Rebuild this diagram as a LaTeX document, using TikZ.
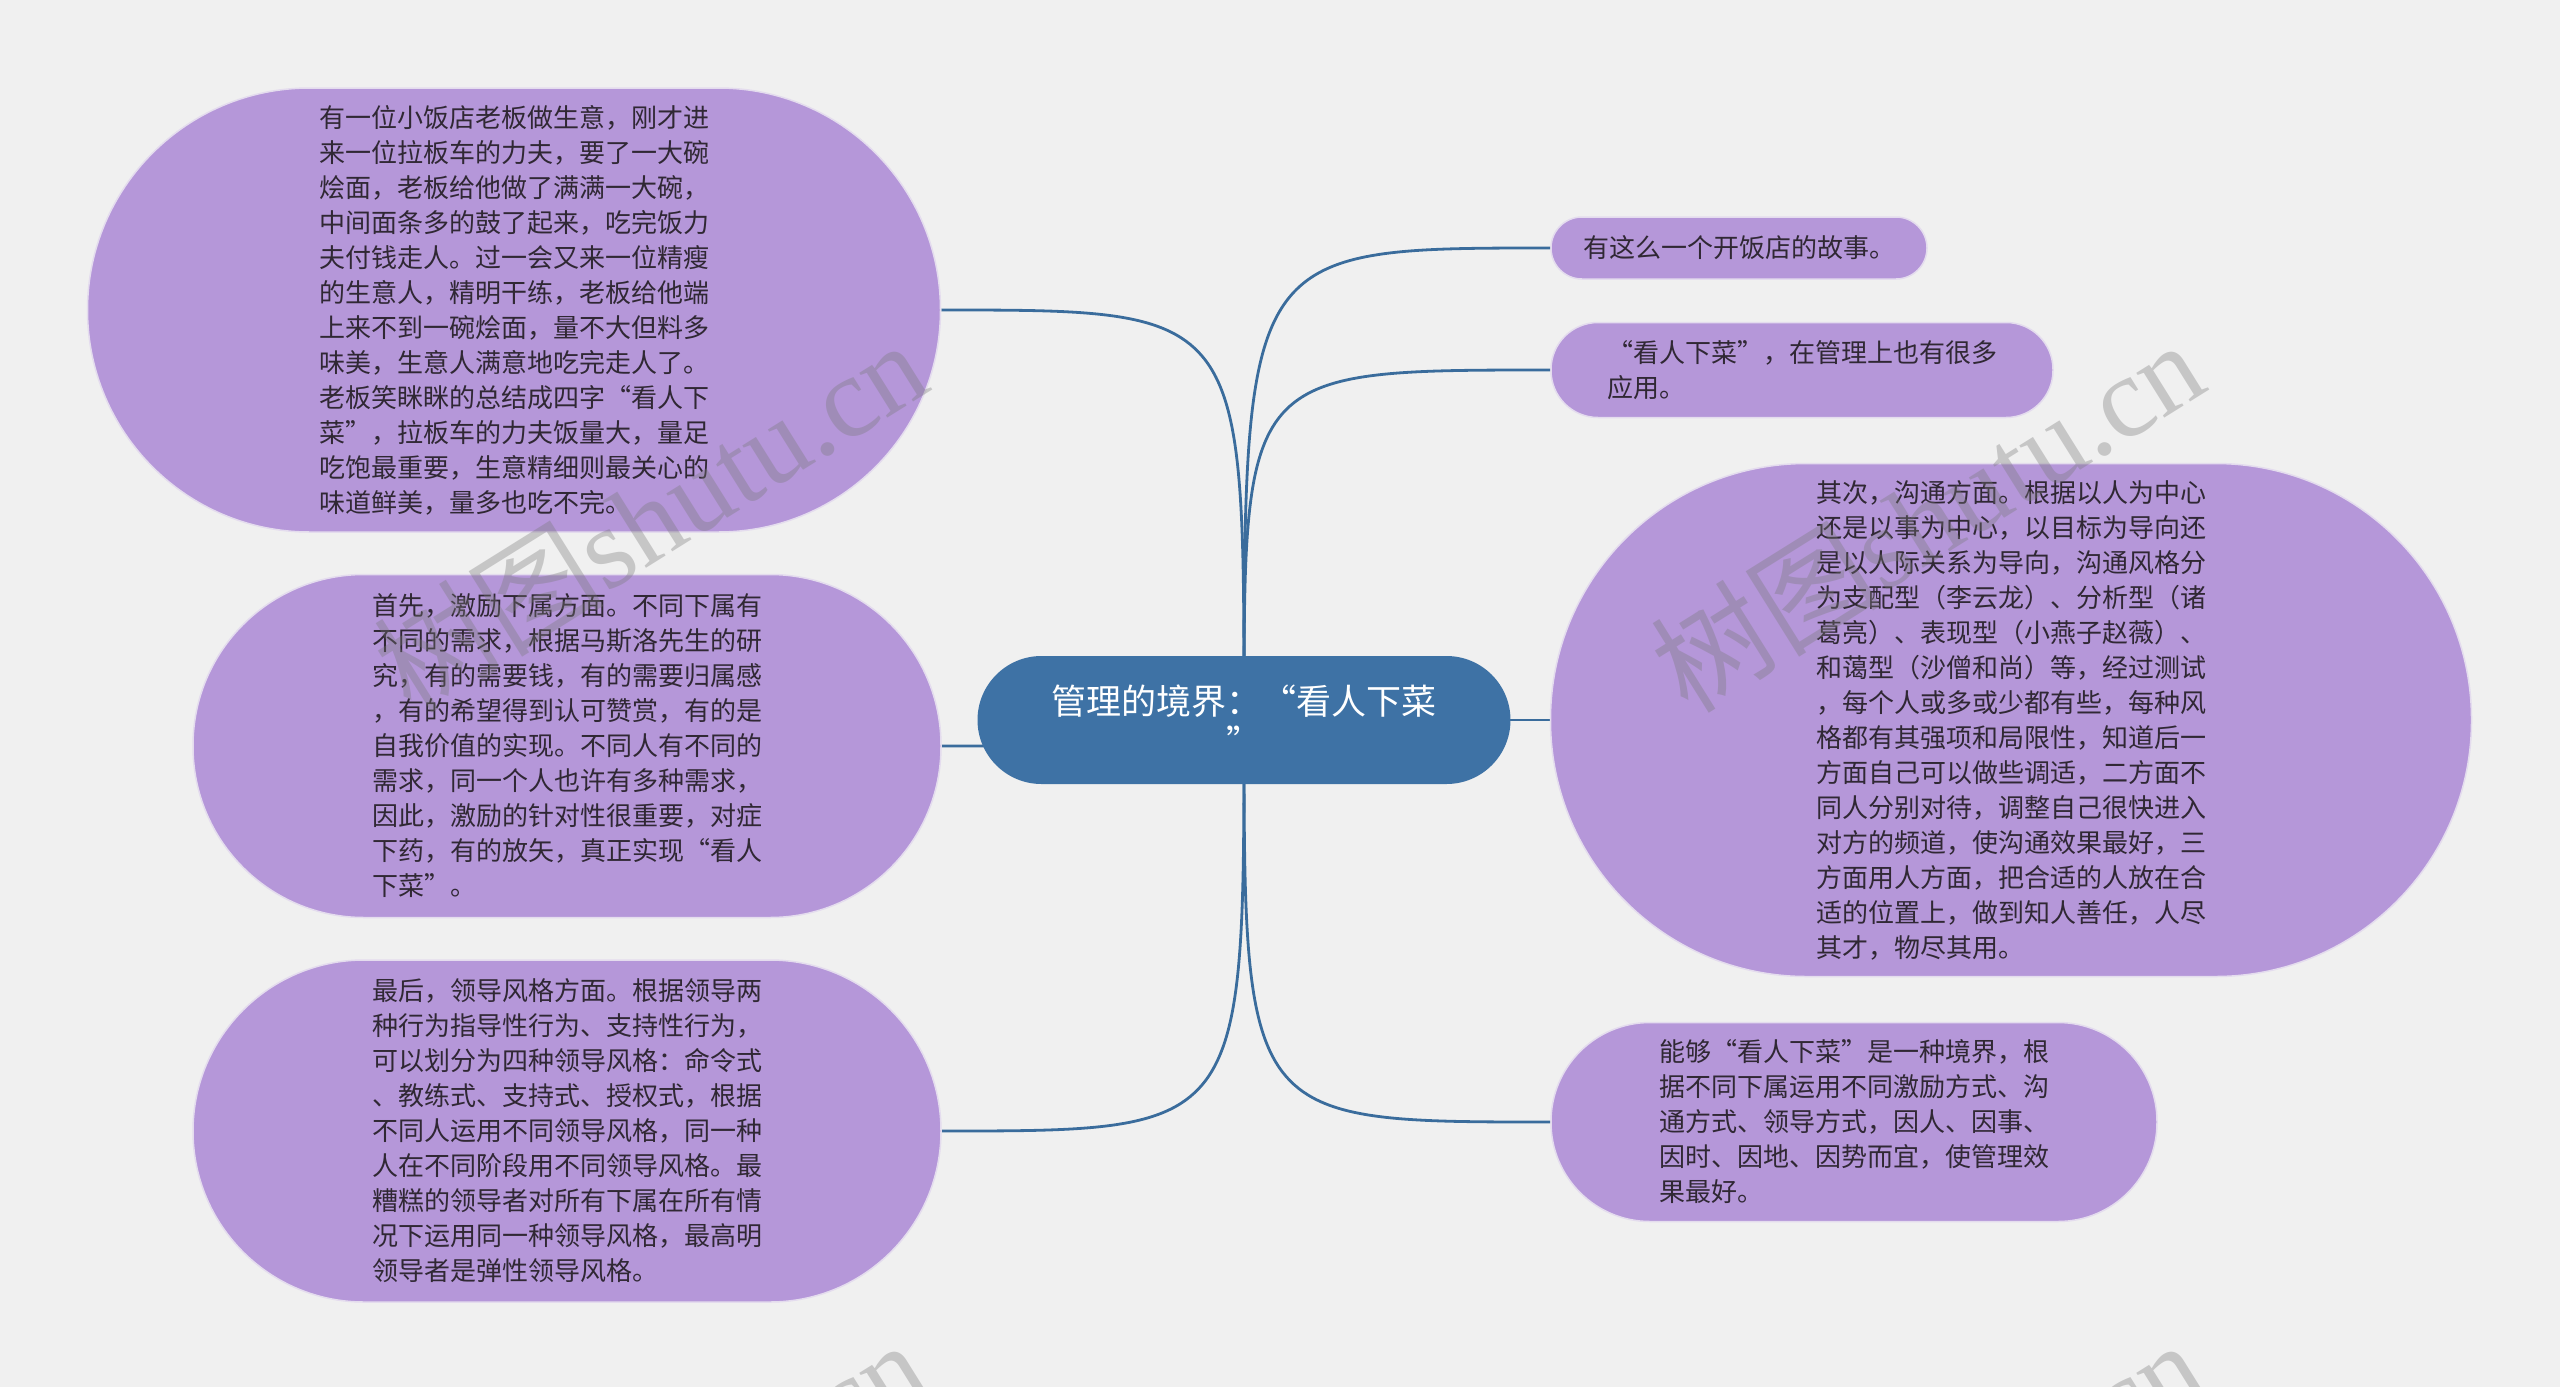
\documentclass[tikz,border=0pt]{standalone}
\usepackage{fontspec}
\setmainfont{Noto Sans CJK SC}
\newfontfamily\cjk{Noto Sans CJK SC}
\newfontfamily\wmserif{Liberation Serif}
\definecolor{bgc}{RGB}{240,240,240}
\definecolor{leaffill}{RGB}{181,151,217}
\definecolor{leafedge}{RGB}{228,220,238}
\definecolor{titlec}{RGB}{62,114,165}
\definecolor{connc}{RGB}{58,108,156}
\definecolor{txtc}{RGB}{48,40,52}
\definecolor{wmc}{RGB}{120,120,120}
\pgfdeclarelayer{back}
\pgfdeclarelayer{edges}
\pgfdeclarelayer{front}
\pgfsetlayers{back,edges,main,front}
\begin{document}
\begin{tikzpicture}[x=1pt,y=-1pt,
  leaf/.style={fill=leaffill, draw=leafedge, line width=1.5pt, text=txtc,
    font=\fontsize{26}{35}\selectfont, align=left, inner sep=0pt},
  titlebox/.style={fill=titlec, draw=none, text=white,
    font=\fontsize{35}{41}\selectfont, align=center, inner sep=0pt,
    minimum width=533pt, minimum height=128pt, rounded corners=64pt},
  conn/.style={draw=connc, line width=2.8pt},
  wm/.style={text=wmc, opacity=0.35, rotate=32, inner sep=0pt,
    font=\fontsize{115}{115}\selectfont}]
\begin{pgfonlayer}{back}
\fill[bgc] (0,0) rectangle (2560,1387);
\end{pgfonlayer}
\useasboundingbox (0,0) rectangle (2560,1387);

\node[titlebox] (c) at (1244,720) {管理的境界：“看人下菜\\”};

\node[leaf, minimum width=853pt, minimum height=444pt, rounded corners=222pt] (l1) at (514,310) {有一位小饭店老板做生意，刚才进\\来一位拉板车的力夫，要了一大碗\\烩面，老板给他做了满满一大碗，\\中间面条多的鼓了起来，吃完饭力\\夫付钱走人。过一会又来一位精瘦\\的生意人，精明干练，老板给他端\\上来不到一碗烩面，量不大但料多\\味美，生意人满意地吃完走人了。\\老板笑眯眯的总结成四字“看人下\\菜”，拉板车的力夫饭量大，量足\\吃饱最重要，生意精细则最关心的\\味道鲜美，量多也吃不完。};

\node[leaf, minimum width=748pt, minimum height=343pt, rounded corners=171pt] (l2) at (567,746) {首先，激励下属方面。不同下属有\\不同的需求，根据马斯洛先生的研\\究，有的需要钱，有的需要归属感\\，有的希望得到认可赞赏，有的是\\自我价值的实现。不同人有不同的\\需求，同一个人也许有多种需求，\\因此，激励的针对性很重要，对症\\下药，有的放矢，真正实现“看人\\下菜”。};

\node[leaf, minimum width=748pt, minimum height=342pt, rounded corners=171pt] (l3) at (567,1131) {最后，领导风格方面。根据领导两\\种行为指导性行为、支持性行为，\\可以划分为四种领导风格：命令式\\、教练式、支持式、授权式，根据\\不同人运用不同领导风格，同一种\\人在不同阶段用不同领导风格。最\\糟糕的领导者对所有下属在所有情\\况下运用同一种领导风格，最高明\\领导者是弹性领导风格。};

\node[leaf, minimum width=376pt, minimum height=62pt, rounded corners=31pt] (r1) at (1739,248) {有这么一个开饭店的故事。};

\node[leaf, minimum width=502pt, minimum height=95pt, rounded corners=47pt] (r2) at (1802,370) {“看人下菜”，在管理上也有很多\\应用。};

\node[leaf, minimum width=921pt, minimum height=513pt, rounded corners=256pt] (r3) at (2011,720) {其次，沟通方面。根据以人为中心\\还是以事为中心，以目标为导向还\\是以人际关系为导向，沟通风格分\\为支配型（李云龙）、分析型（诸\\葛亮）、表现型（小燕子赵薇）、\\和蔼型（沙僧和尚）等，经过测试\\，每个人或多或少都有些，每种风\\格都有其强项和局限性，知道后一\\方面自己可以做些调适，二方面不\\同人分别对待，调整自己很快进入\\对方的频道，使沟通效果最好，三\\方面用人方面，把合适的人放在合\\适的位置上，做到知人善任，人尽\\其才，物尽其用。};

\node[leaf, minimum width=606pt, minimum height=199pt, rounded corners=99pt] (r4) at (1854,1122) {能够“看人下菜”是一种境界，根\\据不同下属运用不同激励方式、沟\\通方式、领导方式，因人、因事、\\因时、因地、因势而宜，使管理效\\果最好。};

\begin{pgfonlayer}{edges}
\foreach \t in {l1,l2,l3}{
  \draw[conn] (c.center) .. controls (c.center |- \t.east) .. (\t.east);
}
\foreach \t in {r1,r2,r3,r4}{
  \draw[conn] (c.center) .. controls (c.center |- \t.west) .. (\t.west);
}
\end{pgfonlayer}

\begin{pgfonlayer}{front}
\begin{scope}
\clip (0,0) rectangle (2560,1387);
\node[wm] (wm1) at (650,515) {{\cjk 树图}{\wmserif shutu.cn}};
\node[wm] (wm2) at (1927,515) {{\cjk 树图}{\wmserif shutu.cn}};
\node[wm] (wm3) at (650,1515) {{\cjk 树图}{\wmserif shutu.cn}};
\node[wm] (wm4) at (1927,1515) {{\cjk 树图}{\wmserif shutu.cn}};
\end{scope}
\end{pgfonlayer}
\end{tikzpicture}
\end{document}
